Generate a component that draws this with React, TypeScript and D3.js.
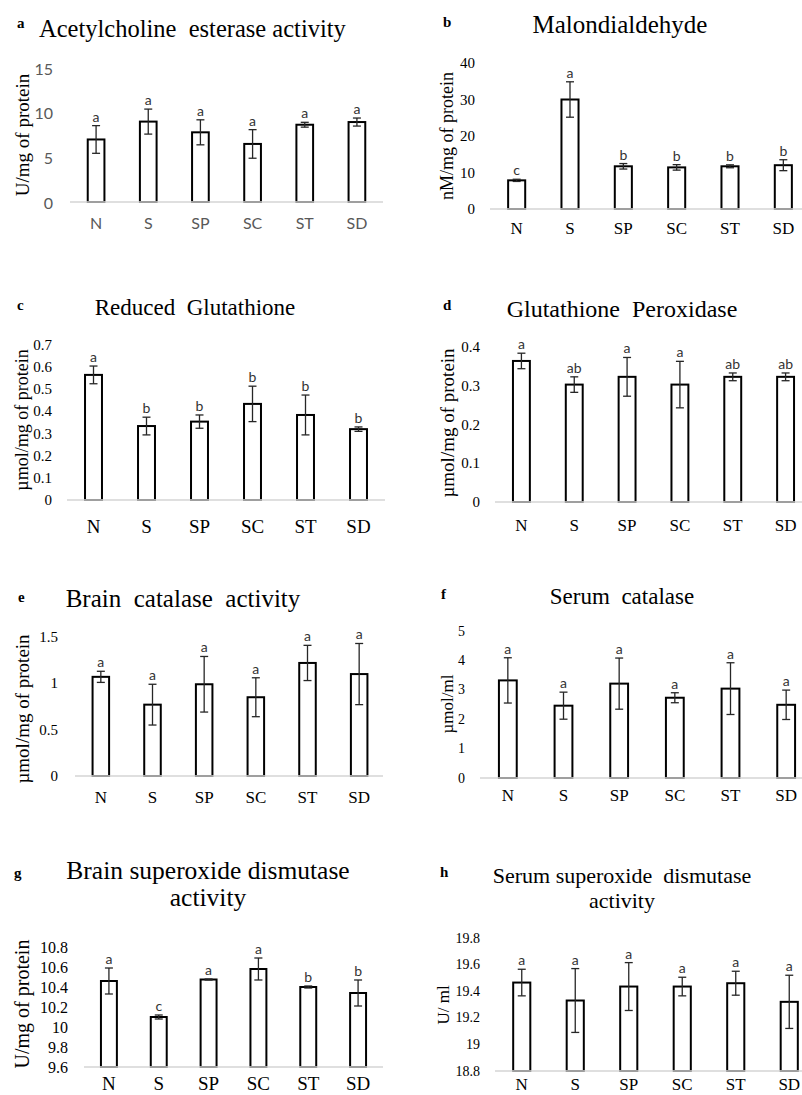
import React from 'react';
import * as d3 from 'd3';

// Treatment groups shared by every panel
const GROUPS = ['N', 'S', 'SP', 'SC', 'ST', 'SD'];

// a. Acetylcholine esterase (U/mg protein)
const ACHE_MEAN = [7.0, 9.0, 7.8, 6.5, 8.65, 8.95];
const ACHE_ERR = [1.55, 1.4, 1.4, 1.6, 0.27, 0.45];
const ACHE_SIG = ['a', 'a', 'a', 'a', 'a', 'a'];
const ACHE_TICKS = [0, 5, 10, 15];

// b. Malondialdehyde (nM/mg protein)
const MDA_MEAN = [7.85, 30, 11.7, 11.4, 11.7, 12];
const MDA_ERR = [0.3, 4.85, 0.75, 0.75, 0.4, 1.5];
const MDA_SIG = ['c', 'a', 'b', 'b', 'b', 'b'];
const MDA_TICKS = [0, 10, 20, 30, 40];

// c. Reduced glutathione (µmol/mg protein)
const GSH_MEAN = [0.565, 0.334, 0.354, 0.434, 0.384, 0.32];
const GSH_ERR = [0.04, 0.04, 0.03, 0.08, 0.09, 0.01];
const GSH_SIG = ['a', 'b', 'b', 'b', 'b', 'b'];
const GSH_TICKS = ['0', '0.1', '0.2', '0.3', '0.4', '0.5', '0.6', '0.7'];

// d. Glutathione peroxidase (µmol/mg protein)
const GPX_MEAN = [0.364, 0.303, 0.323, 0.303, 0.323, 0.323];
const GPX_ERR = [0.02, 0.02, 0.05, 0.06, 0.01, 0.01];
const GPX_SIG = ['a', 'ab', 'a', 'a', 'ab', 'ab'];
const GPX_TICKS = ['0', '0.1', '0.2', '0.3', '0.4'];

// e. Brain catalase (µmol/mg protein)
const BCAT_MEAN = [1.07, 0.77, 0.99, 0.85, 1.22, 1.1];
const BCAT_ERR = [0.06, 0.22, 0.3, 0.21, 0.19, 0.33];
const BCAT_SIG = ['a', 'a', 'a', 'a', 'a', 'a'];
const BCAT_TICKS = ['0', '0.5', '1', '1.5'];

// f. Serum catalase (µmol/ml)
const SCAT_MEAN = [3.32, 2.46, 3.21, 2.73, 3.04, 2.49];
const SCAT_ERR = [0.77, 0.46, 0.87, 0.17, 0.88, 0.5];
const SCAT_SIG = ['a', 'a', 'a', 'a', 'a', 'a'];
const SCAT_TICKS = ['0', '1', '2', '3', '4', '5'];

// g. Brain SOD (U/mg protein)
const BSOD_MEAN = [10.46, 10.1, 10.475, 10.58, 10.4, 10.34];
const BSOD_ERR = [0.13, 0.02, 0.005, 0.11, 0.01, 0.13];
const BSOD_SIG = ['a', 'c', 'a', 'a', 'b', 'b'];
const BSOD_TICKS = ['9.6', '9.8', '10', '10.2', '10.4', '10.6', '10.8'];

// h. Serum SOD (U/ml)
const SSOD_MEAN = [19.465, 19.33, 19.435, 19.435, 19.46, 19.32];
const SSOD_ERR = [0.1, 0.24, 0.18, 0.07, 0.09, 0.2];
const SSOD_SIG = ['a', 'a', 'a', 'a', 'a', 'a'];
const SSOD_TICKS = ['18.8', '19', '19.2', '19.4', '19.6', '19.8'];

const SERIF = '"Liberation Serif", "Times New Roman", serif';
const SANS = 'Lato, "Liberation Sans", sans-serif';

type Panel = {
  tag: string;
  title: string[];
  titleX: number;
  titleY: number;
  titleSize: number;
  titleAnchor: 'start' | 'middle';
  lineGap?: number;
  tagX: number;
  tagY: number;
  yLabel: string;
  yLabelX: number;
  yLabelY: number;
  yLabelSize: number;
  x0: number;
  x1: number;
  axisEnd: number;
  yBase: number;
  yTop: number;
  ticks: (string | number)[];
  tickX: number;
  tickSize: number;
  sansTicks?: boolean;
  xLabelY: number;
  xLabelSize: number;
  mean: number[];
  err: number[];
  sig: string[];
};

const PANELS: Panel[] = [
  {
    tag: 'a', title: ['Acetylcholine  esterase activity'], titleX: 39, titleY: 37, titleSize: 24.5, titleAnchor: 'start',
    tagX: 17, tagY: 28, yLabel: 'U/mg of protein', yLabelX: 22, yLabelY: 135, yLabelSize: 19,
    x0: 70, x1: 383, axisEnd: 383, yBase: 202, yTop: 68, ticks: ACHE_TICKS, tickX: 53, tickSize: 16, sansTicks: true,
    xLabelY: 229, xLabelSize: 16, mean: ACHE_MEAN, err: ACHE_ERR, sig: ACHE_SIG,
  },
  {
    tag: 'b', title: ['Malondialdehyde'], titleX: 620, titleY: 33, titleSize: 25, titleAnchor: 'middle',
    tagX: 443, tagY: 27, yLabel: 'nM/mg of protein', yLabelX: 447, yLabelY: 136, yLabelSize: 18,
    x0: 490, x1: 810, axisEnd: 802, yBase: 209, yTop: 63, ticks: MDA_TICKS, tickX: 475, tickSize: 15,
    xLabelY: 234, xLabelSize: 17, mean: MDA_MEAN, err: MDA_ERR, sig: MDA_SIG,
  },
  {
    tag: 'c', title: ['Reduced  Glutathione'], titleX: 195, titleY: 315, titleSize: 23, titleAnchor: 'middle',
    tagX: 17, tagY: 310, yLabel: 'µmol/mg of protein', yLabelX: 22, yLabelY: 420, yLabelSize: 18,
    x0: 67, x1: 385, axisEnd: 385, yBase: 500, yTop: 345, ticks: GSH_TICKS, tickX: 52, tickSize: 15,
    xLabelY: 533, xLabelSize: 19, mean: GSH_MEAN, err: GSH_ERR, sig: GSH_SIG,
  },
  {
    tag: 'd', title: ['Glutathione  Peroxidase'], titleX: 622, titleY: 317, titleSize: 24, titleAnchor: 'middle',
    tagX: 443, tagY: 310, yLabel: 'µmol/mg of protein', yLabelX: 447, yLabelY: 423, yLabelSize: 19,
    x0: 495, x1: 812, axisEnd: 802, yBase: 502, yTop: 347, ticks: GPX_TICKS, tickX: 480, tickSize: 15,
    xLabelY: 531, xLabelSize: 17, mean: GPX_MEAN, err: GPX_ERR, sig: GPX_SIG,
  },
  {
    tag: 'e', title: ['Brain  catalase  activity'], titleX: 183, titleY: 607, titleSize: 25, titleAnchor: 'middle',
    tagX: 18, tagY: 602, yLabel: 'µmol/mg of protein', yLabelX: 22, yLabelY: 709, yLabelSize: 19,
    x0: 75, x1: 385, axisEnd: 383, yBase: 776, yTop: 637, ticks: BCAT_TICKS, tickX: 58, tickSize: 15,
    xLabelY: 803, xLabelSize: 17, mean: BCAT_MEAN, err: BCAT_ERR, sig: BCAT_SIG,
  },
  {
    tag: 'f', title: ['Serum  catalase'], titleX: 622, titleY: 604, titleSize: 23, titleAnchor: 'middle',
    tagX: 441, tagY: 599, yLabel: 'µmol/ml', yLabelX: 447, yLabelY: 704, yLabelSize: 17,
    x0: 480, x1: 814, axisEnd: 802, yBase: 778, yTop: 631, ticks: SCAT_TICKS, tickX: 465, tickSize: 14,
    xLabelY: 801, xLabelSize: 17, mean: SCAT_MEAN, err: SCAT_ERR, sig: SCAT_SIG,
  },
  {
    tag: 'g', title: ['Brain superoxide dismutase', 'activity'], titleX: 208, titleY: 879, titleSize: 25.5, titleAnchor: 'middle', lineGap: 27,
    tagX: 14, tagY: 878, yLabel: 'U/mg of protein', yLabelX: 22, yLabelY: 1004, yLabelSize: 20,
    x0: 84, x1: 383, axisEnd: 383, yBase: 1067, yTop: 947, ticks: BSOD_TICKS, tickX: 68, tickSize: 16,
    xLabelY: 1090, xLabelSize: 19, mean: BSOD_MEAN, err: BSOD_ERR, sig: BSOD_SIG,
  },
  {
    tag: 'h', title: ['Serum superoxide  dismutase', 'activity'], titleX: 622, titleY: 883, titleSize: 22, titleAnchor: 'middle', lineGap: 25,
    tagX: 440, tagY: 877, yLabel: 'U/ ml', yLabelX: 443, yLabelY: 1005, yLabelSize: 17,
    x0: 495, x1: 816, axisEnd: 802, yBase: 1071, yTop: 938, ticks: SSOD_TICKS, tickX: 480, tickSize: 14,
    xLabelY: 1090, xLabelSize: 17, mean: SSOD_MEAN, err: SSOD_ERR, sig: SSOD_SIG,
  },
];

function BarPanel({ p }: { p: Panel }) {
  const tickVals = p.ticks.map(Number);
  const x = d3.scaleBand<string>()
    .domain(GROUPS)
    .range([p.x0, p.x1])
    .paddingInner(0.68)
    .paddingOuter(0.34);
  const y = d3.scaleLinear()
    .domain([d3.min(tickVals)!, d3.max(tickVals)!])
    .range([p.yBase, p.yTop]);

  const tickFont = p.sansTicks ? SANS : SERIF;
  const tickColor = p.sansTicks ? '#595959' : '#000';
  const bw = x.bandwidth();

  return (
    <g>
      {/* panel tag + title */}
      <text x={p.tagX} y={p.tagY} fontFamily={SERIF} fontWeight="bold" fontSize={15}>{p.tag}</text>
      <text x={p.titleX} y={p.titleY} fontFamily={SERIF} fontSize={p.titleSize}
        textAnchor={p.titleAnchor} style={{ whiteSpace: 'pre' }}>
        {p.title.map((line, i) => (
          <tspan key={i} x={p.titleX} y={p.titleY + i * (p.lineGap || 0)}>{line}</tspan>
        ))}
      </text>

      {/* y axis title */}
      <text transform={`translate(${p.yLabelX},${p.yLabelY}) rotate(-90)`} textAnchor="middle"
        dominantBaseline="central" fontFamily={SERIF} fontSize={p.yLabelSize}>{p.yLabel}</text>

      {/* y tick labels */}
      {p.ticks.map((t, i) => (
        <text key={i} x={p.tickX} y={y(tickVals[i])} textAnchor="end" dominantBaseline="central"
          fontFamily={tickFont} fontSize={p.tickSize} fill={tickColor}>{String(t)}</text>
      ))}

      {/* bars */}
      {GROUPS.map((g, i) => (
        <rect key={g} x={x(g)!} y={y(p.mean[i])} width={bw} height={p.yBase - y(p.mean[i])}
          fill="#fff" stroke="#000" strokeWidth={2} />
      ))}

      {/* baseline */}
      <line x1={p.x0} x2={p.axisEnd} y1={p.yBase} y2={p.yBase} stroke="#d4d4d4" strokeWidth={1.5} />

      {/* error bars + significance letters */}
      {GROUPS.map((g, i) => {
        const cx = x(g)! + bw / 2;
        const hi = y(p.mean[i] + p.err[i]);
        const lo = y(p.mean[i] - p.err[i]);
        return (
          <g key={g} stroke="#262626" strokeWidth={1.3}>
            <line x1={cx} x2={cx} y1={hi} y2={lo} />
            <line x1={cx - 4} x2={cx + 4} y1={hi} y2={hi} />
            <line x1={cx - 4} x2={cx + 4} y1={lo} y2={lo} />
            <text x={cx} y={hi - 4} textAnchor="middle" fontFamily={SANS} fontSize={14}
              fill="#333" stroke="none">{p.sig[i]}</text>
          </g>
        );
      })}

      {/* x category labels */}
      {GROUPS.map(g => (
        <text key={g} x={x(g)! + bw / 2} y={p.xLabelY} textAnchor="middle"
          fontFamily={tickFont} fontSize={p.xLabelSize} fill={tickColor}>{g}</text>
      ))}
    </g>
  );
}

export default function App() {
  return (
    <div style={{ position: 'absolute', left: 0, top: 0 }}>
      <svg width={802} height={1095} style={{ display: 'block', background: '#fff' }}>
        {PANELS.map(p => <BarPanel key={p.tag} p={p} />)}
      </svg>
    </div>
  );
}
